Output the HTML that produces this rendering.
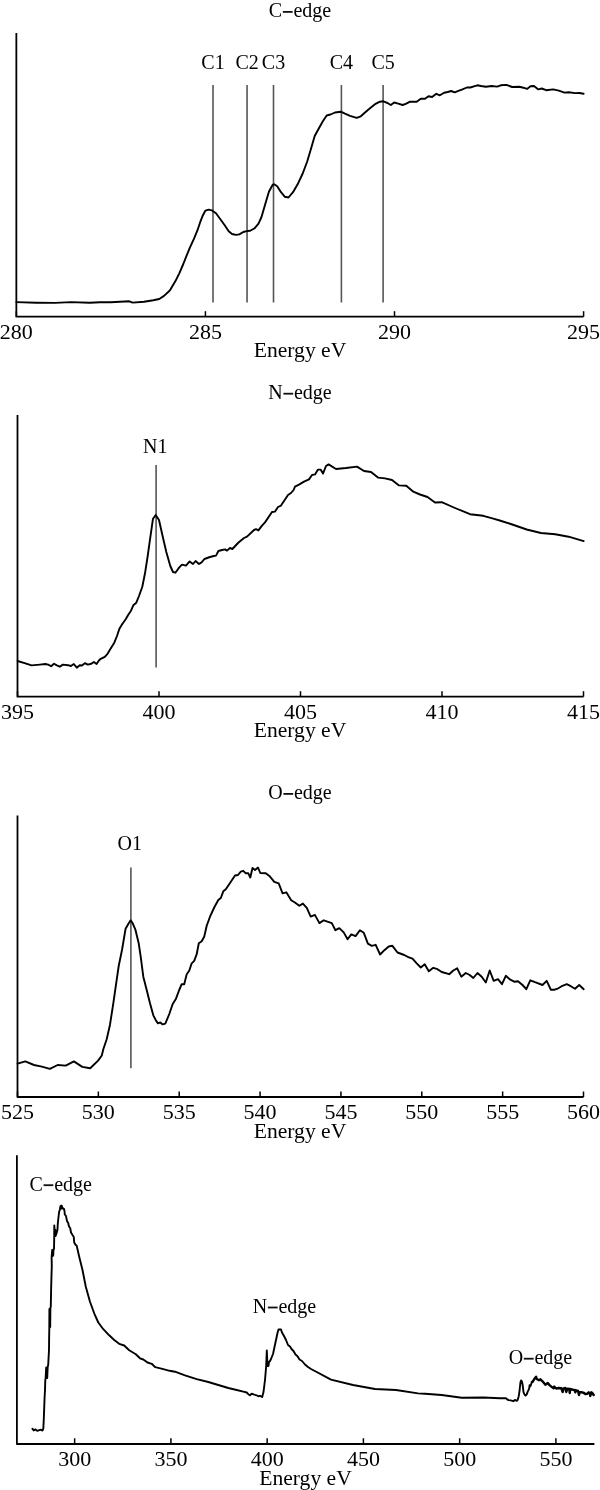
<!DOCTYPE html>
<html><head><meta charset="utf-8"><style>
html,body{margin:0;padding:0;background:#fff;}
svg{display:block;will-change:transform;}
text{font-family:"Liberation Serif",serif;fill:#000;}
</style></head><body>
<svg width="600" height="1490" viewBox="0 0 600 1490">
<text x="300.00" y="17.20" text-anchor="middle" font-size="20">C<tspan fill="none">&#8722;</tspan>edge</text><rect x="282.84" y="11.00" width="9.8" height="1.8" fill="#111"/>
<path d="M16.35,33.00 L16.35,316.70 L583.60,316.70" fill="none" stroke="#000" stroke-width="1.8" stroke-linejoin="round" stroke-linecap="butt"/><line x1="16.35" y1="316.70" x2="16.35" y2="311.20" stroke="#000" stroke-width="1.5"/><text x="16.35" y="339.30" text-anchor="middle" font-size="22">280</text><line x1="205.43" y1="316.70" x2="205.43" y2="311.20" stroke="#000" stroke-width="1.5"/><text x="205.43" y="339.30" text-anchor="middle" font-size="22">285</text><line x1="394.52" y1="316.70" x2="394.52" y2="311.20" stroke="#000" stroke-width="1.5"/><text x="394.52" y="339.30" text-anchor="middle" font-size="22">290</text><line x1="583.60" y1="316.70" x2="583.60" y2="311.20" stroke="#000" stroke-width="1.5"/><text x="583.60" y="339.30" text-anchor="middle" font-size="22">295</text>
<line x1="213.00" y1="85.00" x2="213.00" y2="302.50" stroke="#555" stroke-width="1.6"/>
<text x="213.00" y="69.10" text-anchor="middle" font-size="20">C1</text>
<line x1="247.05" y1="85.00" x2="247.05" y2="302.50" stroke="#555" stroke-width="1.6"/>
<text x="247.05" y="69.10" text-anchor="middle" font-size="20">C2</text>
<line x1="273.50" y1="85.00" x2="273.50" y2="302.50" stroke="#555" stroke-width="1.6"/>
<text x="273.50" y="69.10" text-anchor="middle" font-size="20">C3</text>
<line x1="341.40" y1="85.00" x2="341.40" y2="302.50" stroke="#555" stroke-width="1.6"/>
<text x="341.40" y="69.10" text-anchor="middle" font-size="20">C4</text>
<line x1="383.10" y1="85.00" x2="383.10" y2="302.50" stroke="#555" stroke-width="1.6"/>
<text x="383.10" y="69.10" text-anchor="middle" font-size="20">C5</text>
<polyline points="16.5,302.1 36.3,302.7 55.0,302.9 71.0,302.1 89.7,302.7 100.0,302.3 110.7,302.3 120.0,301.7 129.3,301.3 132.7,302.6 144.0,301.7 153.3,300.3 159.3,299.0 164.0,295.9 169.3,291.0 170.7,289.1 175.3,281.3 179.3,273.3 183.3,264.0 186.7,255.3 190.0,247.3 194.0,238.7 197.3,230.7 200.0,222.7 202.7,215.7 205.3,210.7 208.7,209.6 212.0,210.4 216.0,213.3 220.0,218.7 224.7,225.3 228.7,231.3 232.0,234.0 236.0,234.9 239.3,234.4 243.3,232.0 246.7,231.1 250.2,230.8 254.7,228.2 258.5,223.7 261.5,217.0 265.2,204.2 269.0,191.5 272.7,184.7 274.2,184.3 277.2,186.2 281.0,192.2 284.7,196.7 288.5,197.5 293.0,192.2 298.2,183.2 302.7,173.5 307.2,161.5 311.0,148.7 314.7,136.0 319.2,127.7 323.0,121.0 326.7,115.5 330.5,114.5 335.0,112.5 340.8,111.7 345.0,113.7 350.0,115.8 356.7,117.8 360.8,116.3 365.0,112.5 370.0,108.3 375.0,104.2 380.0,101.7 383.3,101.3 387.5,103.0 390.8,105.0 394.2,102.5 398.3,103.7 402.5,105.0 405.8,103.8 410.0,101.7 416.7,101.7 420.8,98.8 425.0,98.7 428.5,96.2 432.1,97.0 436.3,93.8 439.9,95.3 444.1,92.7 447.7,92.0 451.2,91.0 454.7,92.3 459.0,90.6 462.5,89.4 466.8,87.5 470.3,87.5 473.9,86.3 477.4,85.3 481.0,86.0 485.9,86.8 491.6,86.0 497.2,86.6 500.8,85.3 505.7,84.9 507.8,85.3 512.1,87.0 519.2,86.8 523.4,87.7 527.0,88.9 530.5,86.3 534.0,86.0 536.2,87.7 538.3,89.4 541.8,88.5 546.1,90.2 553.2,89.4 558.8,90.6 564.5,92.6 568.7,92.3 575.1,93.1 579.4,93.0 583.6,93.8" fill="none" stroke="#000" stroke-width="1.9" stroke-linejoin="round" stroke-linecap="round"/>
<text x="300.00" y="357.00" text-anchor="middle" font-size="21.6">Energy eV</text>
<text x="300.00" y="399.00" text-anchor="middle" font-size="20">N<tspan fill="none">&#8722;</tspan>edge</text><rect x="283.40" y="392.80" width="9.8" height="1.8" fill="#111"/>
<path d="M17.50,415.00 L17.50,696.70 L583.50,696.70" fill="none" stroke="#000" stroke-width="1.8" stroke-linejoin="round" stroke-linecap="butt"/><line x1="17.50" y1="696.70" x2="17.50" y2="691.20" stroke="#000" stroke-width="1.5"/><text x="17.50" y="719.00" text-anchor="middle" font-size="22">395</text><line x1="159.00" y1="696.70" x2="159.00" y2="691.20" stroke="#000" stroke-width="1.5"/><text x="159.00" y="719.00" text-anchor="middle" font-size="22">400</text><line x1="300.50" y1="696.70" x2="300.50" y2="691.20" stroke="#000" stroke-width="1.5"/><text x="300.50" y="719.00" text-anchor="middle" font-size="22">405</text><line x1="442.00" y1="696.70" x2="442.00" y2="691.20" stroke="#000" stroke-width="1.5"/><text x="442.00" y="719.00" text-anchor="middle" font-size="22">410</text><line x1="583.50" y1="696.70" x2="583.50" y2="691.20" stroke="#000" stroke-width="1.5"/><text x="583.50" y="719.00" text-anchor="middle" font-size="22">415</text>
<line x1="156.10" y1="465.00" x2="156.10" y2="667.50" stroke="#555" stroke-width="1.6"/>
<text x="155.20" y="452.80" text-anchor="middle" font-size="20">N1</text>
<polyline points="17.6,661.0 24.6,663.1 31.6,665.4 40.0,664.6 45.3,664.0 48.2,664.6 51.1,666.3 54.0,663.7 56.9,665.4 59.8,666.7 62.8,664.6 68.0,665.2 70.9,666.0 73.8,664.0 76.8,667.7 79.7,665.2 82.0,665.5 84.9,663.2 87.8,664.6 91.3,663.8 93.9,662.0 96.6,664.0 98.9,660.5 100.7,658.8 104.8,656.8 107.7,653.6 111.0,648.0 114.3,642.7 117.0,636.0 119.4,628.7 122.3,624.0 125.7,619.3 128.3,614.7 131.0,610.7 133.3,605.3 136.3,602.7 139.0,596.0 142.3,586.7 145.0,573.3 147.7,556.0 150.3,537.3 153.0,518.7 155.7,515.1 159.0,520.0 162.3,534.7 166.3,552.0 170.3,566.0 173.0,572.0 175.4,572.7 178.3,568.7 180.0,566.6 182.0,564.6 186.0,565.6 189.6,561.4 193.0,564.0 195.6,561.0 199.0,564.0 201.6,562.4 204.4,559.0 210.0,557.0 214.0,556.0 216.0,555.6 218.4,551.0 222.0,550.0 225.0,549.4 227.0,550.6 230.0,548.0 232.4,549.0 238.0,543.0 244.0,538.0 247.0,536.6 254.0,530.0 256.0,529.2 258.4,530.4 262.0,525.6 265.0,522.4 272.0,512.0 275.0,511.6 278.0,507.0 281.0,505.6 288.0,495.0 291.0,493.0 293.6,490.0 295.0,486.6 299.0,484.6 304.0,481.6 309.0,479.4 312.0,475.0 315.0,474.4 318.0,469.6 320.6,469.6 323.0,473.6 326.0,466.0 328.6,464.4 336.0,469.0 346.0,468.0 357.0,466.6 364.0,471.0 371.0,472.0 378.0,477.6 385.0,478.4 392.0,480.0 399.0,485.4 406.3,485.8 413.3,491.7 420.0,494.5 427.5,497.0 435.0,502.5 441.7,502.2 455.0,508.0 470.0,514.2 483.3,515.8 493.3,518.7 499.7,520.5 510.8,524.0 526.7,529.5 540.9,533.0 555.2,534.3 568.6,536.7 583.7,541.1" fill="none" stroke="#000" stroke-width="1.9" stroke-linejoin="round" stroke-linecap="round"/>
<text x="300.00" y="737.00" text-anchor="middle" font-size="21.6">Energy eV</text>
<text x="300.00" y="799.20" text-anchor="middle" font-size="20">O<tspan fill="none">&#8722;</tspan>edge</text><rect x="283.40" y="793.00" width="9.8" height="1.8" fill="#111"/>
<path d="M17.50,815.50 L17.50,1097.00 L583.50,1097.00" fill="none" stroke="#000" stroke-width="1.8" stroke-linejoin="round" stroke-linecap="butt"/><line x1="17.50" y1="1097.00" x2="17.50" y2="1091.50" stroke="#000" stroke-width="1.5"/><text x="17.50" y="1119.40" text-anchor="middle" font-size="22">525</text><line x1="98.36" y1="1097.00" x2="98.36" y2="1091.50" stroke="#000" stroke-width="1.5"/><text x="98.36" y="1119.40" text-anchor="middle" font-size="22">530</text><line x1="179.21" y1="1097.00" x2="179.21" y2="1091.50" stroke="#000" stroke-width="1.5"/><text x="179.21" y="1119.40" text-anchor="middle" font-size="22">535</text><line x1="260.07" y1="1097.00" x2="260.07" y2="1091.50" stroke="#000" stroke-width="1.5"/><text x="260.07" y="1119.40" text-anchor="middle" font-size="22">540</text><line x1="340.93" y1="1097.00" x2="340.93" y2="1091.50" stroke="#000" stroke-width="1.5"/><text x="340.93" y="1119.40" text-anchor="middle" font-size="22">545</text><line x1="421.79" y1="1097.00" x2="421.79" y2="1091.50" stroke="#000" stroke-width="1.5"/><text x="421.79" y="1119.40" text-anchor="middle" font-size="22">550</text><line x1="502.64" y1="1097.00" x2="502.64" y2="1091.50" stroke="#000" stroke-width="1.5"/><text x="502.64" y="1119.40" text-anchor="middle" font-size="22">555</text><line x1="583.50" y1="1097.00" x2="583.50" y2="1091.50" stroke="#000" stroke-width="1.5"/><text x="583.50" y="1119.40" text-anchor="middle" font-size="22">560</text>
<line x1="130.90" y1="867.60" x2="130.90" y2="1068.30" stroke="#555" stroke-width="1.6"/>
<text x="129.80" y="849.90" text-anchor="middle" font-size="20">O1</text>
<polyline points="17.6,1063.7 25.3,1061.4 34.0,1065.0 41.9,1066.6 49.8,1068.8 57.7,1065.0 65.7,1065.6 73.9,1061.4 82.3,1066.9 90.2,1068.2 98.1,1060.6 101.8,1055.5 103.3,1049.3 106.7,1039.3 110.0,1024.7 113.3,1003.3 116.0,984.7 118.7,966.0 122.0,950.0 125.6,928.7 128.7,923.3 130.7,920.4 132.7,923.3 135.3,929.3 138.7,943.3 140.7,956.7 143.3,976.7 146.7,990.0 150.0,1003.3 153.3,1015.3 156.0,1020.7 158.0,1023.3 160.3,1022.4 162.7,1024.4 165.3,1023.6 169.3,1014.0 172.7,1004.0 176.0,998.7 179.2,990.0 181.7,984.2 184.2,984.2 186.7,974.2 189.2,970.8 191.7,963.3 194.2,960.8 196.7,954.2 198.8,943.3 201.7,941.3 204.2,936.7 206.7,925.8 210.0,916.7 214.2,907.5 218.3,900.0 220.8,898.0 223.3,891.3 225.8,889.2 229.2,884.2 232.5,879.2 235.0,875.5 238.0,875.0 240.8,871.7 243.3,870.8 245.8,873.3 248.3,873.3 250.3,877.5 252.5,868.0 255.0,870.0 258.0,867.5 260.3,873.0 265.8,873.3 270.0,876.6 274.3,881.9 278.7,883.4 282.6,893.4 286.3,892.3 291.2,900.3 294.9,902.5 299.3,905.8 302.9,903.6 306.8,907.9 310.7,916.6 314.9,914.9 319.4,923.1 323.7,920.3 331.8,923.1 335.4,930.2 339.3,928.1 343.7,932.4 347.6,939.3 351.3,934.4 355.6,936.1 359.9,930.2 363.8,932.8 367.9,943.7 371.8,945.8 375.7,944.8 380.1,954.5 384.4,950.2 388.7,946.5 392.4,945.8 397.5,952.5 404.2,955.0 408.3,957.2 412.5,958.7 416.7,963.3 420.8,967.5 424.7,964.2 428.8,971.2 433.3,967.8 437.5,969.2 441.7,972.0 449.2,974.2 453.3,970.5 457.2,968.3 461.3,976.7 465.8,973.0 469.7,975.0 473.3,978.0 477.5,973.0 481.7,976.7 485.8,982.5 489.7,970.5 493.7,980.8 498.0,979.2 502.0,984.2 505.8,975.8 510.3,979.7 514.2,981.7 518.0,981.2 522.5,985.0 526.3,989.2 530.3,980.3 535.0,982.2 542.5,985.0 546.7,980.8 550.8,989.7 554.7,989.7 558.3,988.3 562.5,985.8 566.7,984.2 570.8,986.2 575.0,988.8 579.2,985.0 583.7,989.2" fill="none" stroke="#000" stroke-width="1.9" stroke-linejoin="round" stroke-linecap="round"/>
<text x="300.00" y="1137.60" text-anchor="middle" font-size="21.6">Energy eV</text>
<path d="M16.90,1155.30 L16.90,1444.00 L594.40,1444.00" fill="none" stroke="#000" stroke-width="1.8" stroke-linejoin="round" stroke-linecap="butt"/><line x1="74.65" y1="1444.00" x2="74.65" y2="1438.25" stroke="#000" stroke-width="1.5"/><text x="74.65" y="1466.20" text-anchor="middle" font-size="22">300</text><line x1="170.90" y1="1444.00" x2="170.90" y2="1438.25" stroke="#000" stroke-width="1.5"/><text x="170.90" y="1466.20" text-anchor="middle" font-size="22">350</text><line x1="267.15" y1="1444.00" x2="267.15" y2="1438.25" stroke="#000" stroke-width="1.5"/><text x="267.15" y="1466.20" text-anchor="middle" font-size="22">400</text><line x1="363.40" y1="1444.00" x2="363.40" y2="1438.25" stroke="#000" stroke-width="1.5"/><text x="363.40" y="1466.20" text-anchor="middle" font-size="22">450</text><line x1="459.65" y1="1444.00" x2="459.65" y2="1438.25" stroke="#000" stroke-width="1.5"/><text x="459.65" y="1466.20" text-anchor="middle" font-size="22">500</text><line x1="555.90" y1="1444.00" x2="555.90" y2="1438.25" stroke="#000" stroke-width="1.5"/><text x="555.90" y="1466.20" text-anchor="middle" font-size="22">550</text>
<text x="29.50" y="1190.50" text-anchor="start" font-size="20">C<tspan fill="none">&#8722;</tspan>edge</text><rect x="43.53" y="1184.30" width="9.8" height="1.8" fill="#111"/>
<text x="252.70" y="1312.80" text-anchor="start" font-size="20">N<tspan fill="none">&#8722;</tspan>edge</text><rect x="267.84" y="1306.60" width="9.8" height="1.8" fill="#111"/>
<text x="508.70" y="1364.00" text-anchor="start" font-size="20">O<tspan fill="none">&#8722;</tspan>edge</text><rect x="523.84" y="1357.80" width="9.8" height="1.8" fill="#111"/>
<polyline points="32.4,1428.7 33.7,1430.4 35.5,1429.4 37.2,1430.9 39.4,1430.2 41.1,1429.7 42.5,1430.6 43.3,1428.7 43.8,1419.1 44.6,1397.3 45.0,1390.0 45.3,1380.0 45.6,1378.5 46.2,1367.5 46.5,1378.0 47.0,1367.5 47.2,1378.0 47.7,1367.0 48.2,1365.0 49.0,1350.0 49.1,1340.0 49.3,1329.0 49.4,1309.0 49.7,1327.0 49.9,1309.0 50.2,1327.0 50.4,1308.0 50.8,1306.8 51.1,1290.0 51.5,1275.0 51.8,1266.0 51.6,1257.5 52.2,1250.0 52.6,1256.0 52.9,1250.0 53.2,1255.5 53.5,1249.5 54.0,1249.0 54.2,1238.5 54.3,1225.5 54.9,1236.0 55.4,1230.0 55.6,1236.0 56.5,1233.5 57.5,1229.5 57.8,1223.5 58.5,1217.0 59.1,1212.0 59.9,1209.5 60.5,1206.0 61.3,1205.6 61.6,1208.5 61.9,1206.0 62.4,1208.6 63.3,1208.3 64.0,1209.0 64.5,1211.0 64.8,1214.5 66.0,1216.0 67.0,1221.0 68.2,1223.0 69.0,1226.5 70.2,1228.0 71.0,1232.5 72.5,1235.0 73.8,1237.0 74.2,1242.5 75.5,1244.8 76.7,1245.8 79.2,1256.7 82.5,1270.0 85.8,1286.7 90.0,1301.7 94.2,1313.3 98.3,1322.5 103.3,1329.2 109.2,1335.3 114.2,1340.0 119.2,1343.8 124.2,1345.5 129.2,1350.3 135.8,1354.2 140.0,1358.3 143.3,1359.5 147.5,1362.5 151.7,1363.8 155.3,1367.2 163.3,1369.2 169.7,1370.8 175.0,1371.7 185.0,1375.3 196.7,1379.2 208.3,1382.0 218.3,1385.0 228.3,1388.0 236.7,1390.0 243.3,1391.7 246.7,1392.5 248.3,1394.2 250.0,1395.3 251.7,1393.7 254.2,1394.7 256.7,1395.3 258.3,1396.3 260.0,1395.8 262.2,1397.0 263.5,1392.0 265.0,1380.0 266.2,1366.0 266.8,1350.5 267.5,1366.0 268.5,1366.0 269.0,1362.0 270.0,1361.0 271.0,1359.0 273.0,1354.0 274.5,1347.0 276.0,1340.0 277.5,1333.0 278.5,1329.5 281.0,1329.5 282.0,1332.5 284.0,1336.0 286.0,1340.0 288.0,1345.0 290.0,1346.5 291.5,1349.0 293.5,1351.0 295.5,1354.5 297.5,1356.3 299.5,1359.5 302.0,1361.0 305.0,1364.5 308.0,1367.0 311.0,1369.0 314.8,1371.0 331.0,1379.6 353.0,1385.0 375.0,1389.0 396.0,1390.0 418.0,1393.4 425.0,1393.7 441.7,1395.0 461.7,1397.8 483.3,1397.5 500.0,1398.3 505.9,1398.3 506.9,1399.1 508.5,1400.1 510.7,1400.4 513.3,1401.2 514.9,1399.9 516.8,1400.9 517.6,1400.1 518.7,1396.4 519.5,1391.1 520.5,1382.0 521.1,1380.4 521.9,1381.5 522.7,1385.2 523.5,1392.1 524.5,1394.5 525.6,1395.6 526.7,1394.3 527.7,1391.6 529.1,1388.9 529.6,1385.2 530.4,1386.3 531.9,1382.0" fill="none" stroke="#000" stroke-width="1.9" stroke-linejoin="round" stroke-linecap="round"/>
<polyline points="531.9,1382.0 532.6,1381.9 534.3,1379.0 536.1,1376.7 536.7,1379.0 539.0,1380.2 540.5,1379.3 542.5,1381.3 545.4,1384.8 547.8,1383.1 549.5,1385.1 551.3,1386.6 553.6,1388.3 554.2,1386.6 556.5,1388.6 558.7,1388.0 561.3,1388.3 562.7,1392.0 563.3,1388.7 565.3,1388.0 566.3,1392.0 567.3,1388.7 569.3,1389.0 569.7,1393.0 570.3,1389.0 572.7,1389.7 574.7,1390.0 575.3,1392.3 576.0,1390.3 578.0,1391.0 579.0,1395.0 579.7,1392.3 582.0,1392.3 584.0,1393.0 585.3,1394.0 587.3,1393.7 588.7,1392.3 589.7,1393.3 590.3,1396.0 591.3,1392.3 592.3,1393.0 593.7,1395.0" fill="none" stroke="#000" stroke-width="2.4" stroke-linejoin="round" stroke-linecap="round"/>
<text x="305.50" y="1484.60" text-anchor="middle" font-size="21.6">Energy eV</text>
</svg>
</body></html>
